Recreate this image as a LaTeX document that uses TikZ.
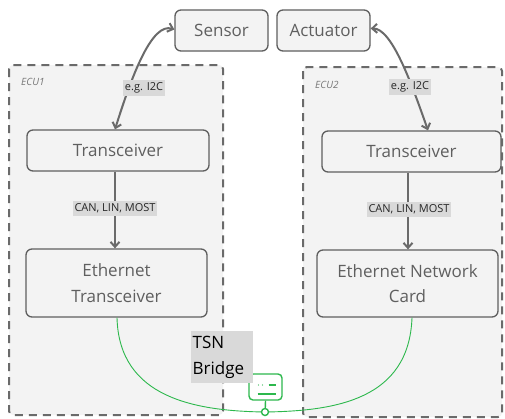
\documentclass[tikz,border=0pt]{standalone}
\usepackage{fontspec}
\setmainfont{Open Sans}
\usetikzlibrary{arrows.meta}
\definecolor{boxfill}{HTML}{F3F3F3}
\definecolor{boxline}{HTML}{5E5E5E}
\definecolor{boxtext}{HTML}{5F5F5F}
\definecolor{arrowc}{HTML}{6A6A6A}
\definecolor{lblbg}{HTML}{D9D9D9}
\definecolor{tsngreen}{HTML}{2DB84D}
\definecolor{ecutext}{HTML}{777777}
\tikzset{
  box/.style={draw=boxline, line width=1.3pt, fill=boxfill, rounded corners=6pt,
    text=boxtext, font=\fontsize{17}{25.5}\selectfont, align=center, inner sep=0pt},
  ecu/.style={draw=arrowc, line width=2pt, dash pattern=on 8pt off 6pt, fill=boxfill,
    rounded corners=4pt},
  ecutitle/.style={text=ecutext, font=\fontsize{10}{12}\selectfont\itshape, anchor=west, inner sep=0pt},
  conn/.style={draw=arrowc, line width=2pt},
  lbl/.style={fill=lblbg, text=black!85, font=\fontsize{11}{13}\selectfont, inner xsep=1.5pt, inner ysep=2.5pt},
  greenline/.style={draw=tsngreen, line width=0.9pt},
  tip/.style={-{Straight Barb[length=5pt,width=9pt,line width=2pt]}},
  bothtip/.style={{Straight Barb[length=5pt,width=9pt,line width=2pt]}-{Straight Barb[length=5pt,width=9pt,line width=2pt]}}
}
\begin{document}
\begin{tikzpicture}[x=1pt,y=-1pt]
\useasboundingbox[fill=white] (0,0) rectangle (505,418);
% ECU containers
\path[ecu] (9,65) rectangle (223,415);
\path[ecu] (303,67) rectangle (502,417);
\node[ecutitle] (ecu1t) at (21,82) {ECU1};
\node[ecutitle] (ecu2t) at (315,85) {ECU2};
% boxes
\node[box, minimum width=93pt, minimum height=41pt] (sensor) at (221.5,30.5) {Sensor};
\node[box, minimum width=93pt, minimum height=41pt] (act) at (323.5,30.5) {Actuator};
\node[box, minimum width=182pt, minimum height=41pt] (tr1) at (118,150.5) {Transceiver};
\node[box, minimum width=179pt, minimum height=41pt] (tr2) at (411.5,151.5) {Transceiver};
\node[box, minimum width=181pt, minimum height=68pt] (et) at (116.5,283) {Ethernet\\Transceiver};
\node[box, minimum width=181pt, minimum height=67pt] (enc) at (407.5,283.5) {Ethernet Network\\Card};
% coordinates for connector ends
\coordinate (s1) at ([yshift=1pt]sensor.west);
\coordinate (t1) at (tr1.north -| 115,0);
\coordinate (a1) at ([yshift=2pt]act.east);
\coordinate (t2) at (tr2.north -| 428,0);
% sensor / actuator links
\draw[conn, bothtip] (s1) .. controls (152,22) and (132,75) .. (t1);
\draw[conn, bothtip] (a1) .. controls (392,28) and (412,85) .. (t2);
\node[lbl] (l1) at (144,88) {e.g. I2C};
\node[lbl] (l2) at (410,87) {e.g. I2C};
% vertical links
\draw[conn, tip] (tr1.south -| 115,0) -- (et.north -| 115,0);
\draw[conn, tip] (tr2.south -| 408,0) -- (enc.north -| 408,0);
\node[lbl] (l3) at (115,208.5) {CAN, LIN, MOST};
\node[lbl] (l4) at (409,209.5) {CAN, LIN, MOST};
% bridge
\coordinate (hub) at (265,412);
\draw[greenline] (et.south -| 117,0) .. controls (119,398) and (195,411) .. (hub);
\draw[greenline] (enc.south -| 412,0) .. controls (409,400) and (335,411) .. (hub);
\node[draw=tsngreen, line width=1.4pt, fill=white, rounded corners=4pt, minimum width=33pt, minimum height=26pt, inner sep=0pt] (icon) at (265.5,387) {};
\draw[tsngreen, line width=1.4pt] (icon.south) -- ([yshift=-3.5pt]hub);
\node[circle, draw=tsngreen, line width=1.4pt, fill=white, minimum size=7pt, inner sep=0pt] (hubc) at (hub) {};
\draw[tsngreen, line width=1.3pt] ([xshift=-8pt,yshift=-7pt]icon.center) -- ([xshift=10pt,yshift=-7pt]icon.center);
\draw[tsngreen, line width=1.3pt] ([xshift=3pt,yshift=2pt]icon.center) -- ([xshift=10pt,yshift=2pt]icon.center);
\fill[tsngreen] ([xshift=-7pt,yshift=2pt]icon.center) circle (0.7pt);
\fill[tsngreen] ([xshift=-3pt,yshift=2pt]icon.center) circle (0.7pt);
\node[fill=lblbg, minimum width=62pt, minimum height=52pt, inner sep=0pt] (tsnbg) at (222,357) {};
\node[anchor=north west, text=black, font=\fontsize{17}{26}\selectfont, align=left, inner sep=0pt] (tsn) at (192.5,336) {TSN\\Bridge};
\end{tikzpicture}
\end{document}
